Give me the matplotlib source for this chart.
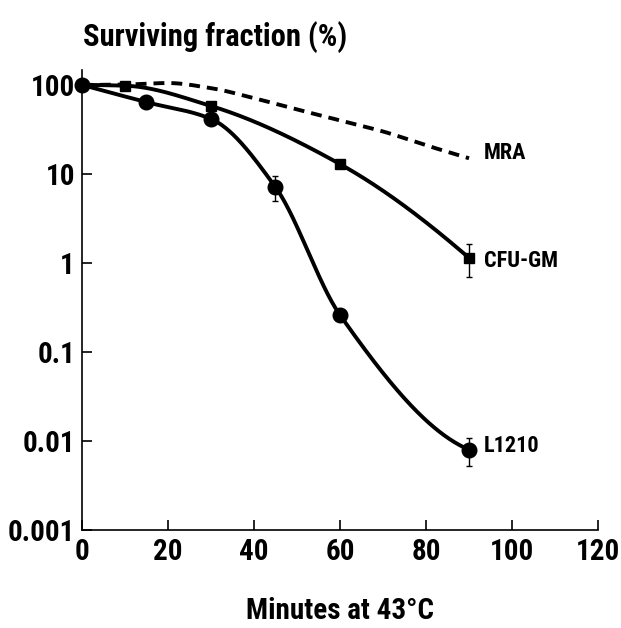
import numpy as np
import matplotlib.pyplot as plt

plt.rcParams['font.family'] = ['Roboto Condensed', 'DejaVu Sans']
plt.rcParams['font.weight'] = 'bold'

# данные
l1210_x = [0, 15, 30, 45, 60, 90]
l1210_y = [100, 64, 41.5, 7.1, 0.26, 0.008]
l1210_err_lo = [0, 0, 0, 2.1, 0, 0.0028]
l1210_err_hi = [0, 0, 0, 2.4, 0, 0.0027]

cfu_x = [0, 10, 30, 60, 90]
cfu_y = [100, 98, 58, 12.9, 1.14]
cfu_err_lo = [0, 0, 0, 0, 0.44]
cfu_err_hi = [0, 0, 0, 0, 0.50]

mra_x = [0, 10, 20, 30, 40, 50, 60, 70, 80, 90]
mra_y = [100, 101, 105, 92, 71, 53, 40, 30, 21, 15]

x_ticks = [0, 20, 40, 60, 80, 100, 120]
y_ticks = [0.001, 0.01, 0.1, 1, 10, 100]
y_tick_labels = ['0.001', '0.01', '0.1', '1', '10', '100']


def smooth_log(xs, ys, n=300):
    """Монотонный кубический сплайн (PCHIP) в логарифмическом масштабе"""
    x = np.asarray(xs, float)
    y = np.log10(np.asarray(ys, float))
    h = np.diff(x)
    s = np.diff(y) / h
    d = np.zeros_like(y)
    for i in range(1, len(x) - 1):
        if s[i - 1] * s[i] > 0:
            w1 = 2 * h[i] + h[i - 1]
            w2 = h[i] + 2 * h[i - 1]
            d[i] = (w1 + w2) / (w1 / s[i - 1] + w2 / s[i])
    d[0] = ((2 * h[0] + h[1]) * s[0] - h[0] * s[1]) / (h[0] + h[1])
    if d[0] * s[0] <= 0:
        d[0] = 0
    d[-1] = ((2 * h[-1] + h[-2]) * s[-1] - h[-1] * s[-2]) / (h[-1] + h[-2])
    if d[-1] * s[-1] <= 0:
        d[-1] = 0
    xx = np.linspace(x[0], x[-1], n)
    idx = np.clip(np.searchsorted(x, xx) - 1, 0, len(x) - 2)
    t = (xx - x[idx]) / h[idx]
    h00 = 2 * t**3 - 3 * t**2 + 1
    h10 = t**3 - 2 * t**2 + t
    h01 = -2 * t**3 + 3 * t**2
    h11 = t**3 - t**2
    yy = h00 * y[idx] + h10 * h[idx] * d[idx] + h01 * y[idx + 1] + h11 * h[idx] * d[idx + 1]
    return xx, 10**yy


fig = plt.figure(figsize=(6.21, 6.28), dpi=100)
ax = fig.add_axes([0.132, 0.156, 0.831, 0.7325])

# MRA - пунктир без маркеров
xs, ys = smooth_log(mra_x, mra_y)
ax.plot(xs, ys, color='black', lw=2.8, linestyle=(0, (2.8, 1.8)), clip_on=False)

# CFU-GM
xs, ys = smooth_log(cfu_x, cfu_y)
ax.plot(xs, ys, color='black', lw=2.8, clip_on=False)
ax.errorbar(cfu_x, cfu_y, yerr=[cfu_err_lo, cfu_err_hi], fmt='s', color='black',
            markersize=6.5, elinewidth=1, capsize=2, clip_on=False)

# L1210
xs, ys = smooth_log(l1210_x, l1210_y)
ax.plot(xs, ys, color='black', lw=2.8, clip_on=False)
ax.errorbar(l1210_x, l1210_y, yerr=[l1210_err_lo, l1210_err_hi], fmt='o', color='black',
            markersize=10.5, elinewidth=1, capsize=2, clip_on=False)

# подписи кривых
ax.text(93.5, 17, 'MRA', fontsize=16, fontweight='bold', va='center', ha='left')
ax.text(93.5, 1.05, 'CFU-GM', fontsize=16, fontweight='bold', va='center', ha='left')
ax.text(93.5, 0.0088, 'L1210', fontsize=16, fontweight='bold', va='center', ha='left')

ax.set_yscale('log')
ax.set_xlim(0, 120)
ax.set_ylim(0.001, 147)
ax.set_xticks(x_ticks)
ax.set_xticklabels([str(t) for t in x_ticks])
ax.set_yticks(y_ticks)
ax.set_yticklabels(y_tick_labels)
ax.yaxis.set_minor_locator(plt.NullLocator())

ax.spines['top'].set_visible(False)
ax.spines['right'].set_visible(False)
ax.spines['left'].set_linewidth(1.2)
ax.spines['bottom'].set_linewidth(1.2)
ax.tick_params(axis='both', direction='in', length=7, width=1.2, labelsize=21)
ax.tick_params(axis='x', pad=6)
ax.tick_params(axis='y', pad=5)

fig.text(83 / 621, 1 - 37 / 628, 'Surviving fraction (%)', fontsize=22,
         fontweight='bold', ha='left', va='center')
fig.text(340 / 621, 1 - 611 / 628, 'Minutes at 43°C', fontsize=21,
         fontweight='bold', ha='center', va='center')

fig.savefig('out.png', dpi=100)
